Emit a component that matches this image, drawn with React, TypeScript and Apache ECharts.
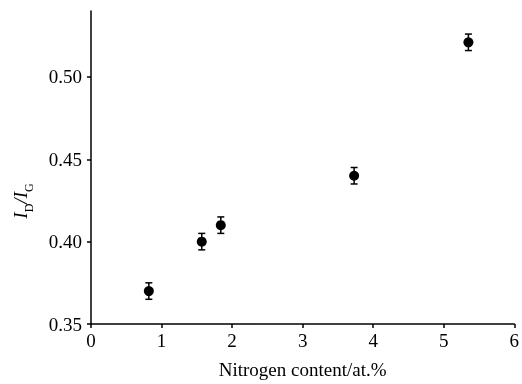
import React, { useEffect, useRef } from "react";
import * as echarts from "echarts";

const nitrogen = [0.82, 1.57, 1.84, 3.73, 5.35];
const ratio = [0.370, 0.400, 0.410, 0.440, 0.521];
const errors = [0.005, 0.005, 0.005, 0.005, 0.005];
const yTicks = [0.35, 0.4, 0.45, 0.5];
const xTicks = [0, 1, 2, 3, 4, 5, 6];

const FONT = "Liberation Serif";

export default function App() {
  const ref = useRef<HTMLDivElement>(null);
  useEffect(() => {
    if (!ref.current) return;
    const chart = echarts.init(ref.current, undefined, { renderer: "svg" });
    const pts = nitrogen.map((x, i) => [x, ratio[i]]);
    const errData = nitrogen.map((x, i) => [x, ratio[i] - errors[i], ratio[i] + errors[i]]);
    chart.setOption({
      animation: false,
      grid: { left: 91, right: 7, top: 11, bottom: 56 },
      graphic: [
        {
          type: "text",
          x: 23,
          y: 201,
          rotation: Math.PI / 2,
          style: {
            text: "{i|I}{s|D}{i|/I}{s|G}",
            align: "center",
            verticalAlign: "middle",
            fill: "#000",
            rich: {
              i: { fontFamily: FONT, fontStyle: "italic", fontSize: 19, fill: "#000", verticalAlign: "top", lineHeight: 20 },
              s: { fontFamily: FONT, fontSize: 12, fill: "#000", verticalAlign: "bottom", lineHeight: 24 },
            },
          },
        },
      ],
      xAxis: {
        type: "value",
        min: 0,
        max: 6,
        interval: 1,
        splitLine: { show: false },
        axisLine: { lineStyle: { color: "#000", width: 1.5 } },
        axisTick: { show: true, length: 4, lineStyle: { color: "#000", width: 1.5 }, customValues: xTicks },
        axisLabel: { color: "#000", fontFamily: FONT, fontSize: 19, margin: 7, customValues: xTicks },
        name: "Nitrogen content/at.%",
        nameLocation: "middle",
        nameGap: 36,
        nameTextStyle: { color: "#000", fontFamily: FONT, fontSize: 19 },
      },
      yAxis: {
        type: "value",
        min: 0.35,
        max: 0.54,
        interval: 0.05,
        splitLine: { show: false },
        axisLine: { show: true, lineStyle: { color: "#000", width: 1.5 } },
        axisTick: { show: true, length: 4, lineStyle: { color: "#000", width: 1.5 }, customValues: yTicks },
        axisLabel: {
          color: "#000",
          fontFamily: FONT,
          fontSize: 19,
          margin: 9,
          customValues: yTicks,
          formatter: (v: number) => v.toFixed(2),
        },
      },
      series: [
        {
          type: "custom",
          data: errData,
          renderItem: (params: any, api: any) => {
            const x = api.value(0);
            const lo = api.coord([x, api.value(1)]);
            const hi = api.coord([x, api.value(2)]);
            const hw = 3.5;
            const style = { stroke: "#000", lineWidth: 1.5 };
            return {
              type: "group",
              children: [
                { type: "line", shape: { x1: lo[0], y1: lo[1], x2: hi[0], y2: hi[1] }, style },
                { type: "line", shape: { x1: lo[0] - hw, y1: lo[1], x2: lo[0] + hw, y2: lo[1] }, style },
                { type: "line", shape: { x1: hi[0] - hw, y1: hi[1], x2: hi[0] + hw, y2: hi[1] }, style },
              ],
            };
          },
          z: 2,
        },
        {
          type: "scatter",
          data: pts,
          symbol: "circle",
          symbolSize: 10,
          itemStyle: { color: "#000", opacity: 1 },
          z: 3,
        },
      ],
    });
    return () => chart.dispose();
  }, []);
  return (
    <div
      ref={ref}
      style={{ position: "fixed", left: 0, top: 0, width: 522, height: 384 }}
    />
  );
}
